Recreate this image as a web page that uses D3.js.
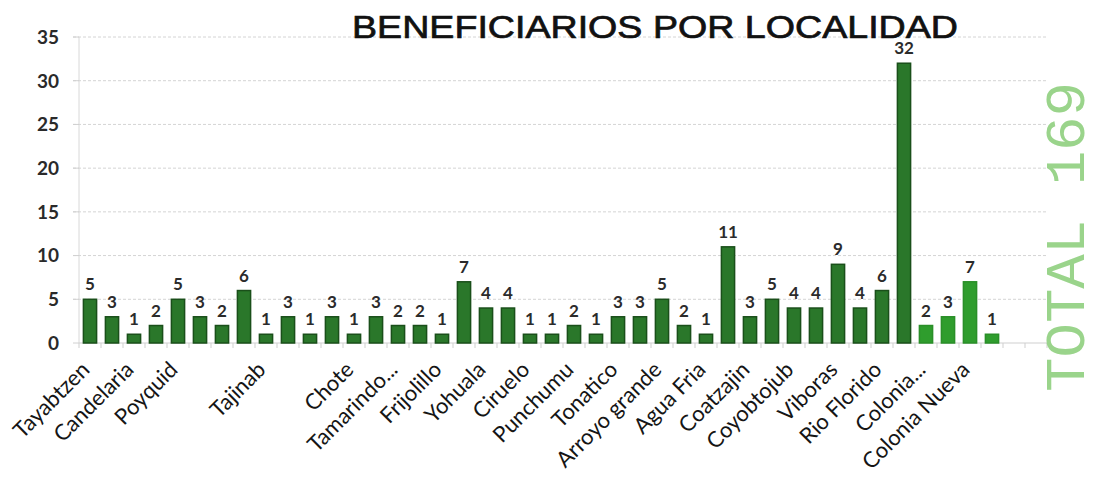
<!DOCTYPE html>
<html>
<head>
<meta charset="utf-8">
<script src="https://cdn.jsdelivr.net/npm/d3@7"></script>
<style>
  html, body { margin: 0; padding: 0; background: #ffffff; }
  svg { display: block; }
</style>
</head>
<body>
<svg id="chart" width="1104" height="495"></svg>
<script>
const title = "BENEFICIARIOS POR LOCALIDAD";
const totalLabel = "TOTAL 169";
const values = [5,3,1,2,5,3,2,6,1,3,1,3,1,3,2,2,1,7,4,4,1,1,2,1,3,3,5,2,1,11,3,5,4,4,9,4,6,32,2,3,7,1];
const categories = ["Tayabtzen","","Candelaria","","Poyquid","","","","Tajinab","","","","Chote","","Tamarindo...","","Frijolillo","","Yohuala","","Ciruelo","","Punchumu","","Tonatico","","Arroyo grande","","Agua Fria","","Coatzajin","","Coyobtojub","","Viboras","","Rio Florido","","Colonia...","","Colonia Nueva",""];
const yTicks = [0,5,10,15,20,25,30,35];

const svg = d3.select("#chart");
const extraSlots = 2;
const x = d3.scaleBand()
  .domain(d3.range(values.length + extraSlots))
  .range([79, 1047])
  .paddingInner(0.4)
  .paddingOuter(0.2);
const y = d3.scaleLinear().domain([0, 35]).range([343, 37]);
const x0 = 79, x1 = 1047;

// gridlines
svg.append("g").selectAll("line").data(yTicks.filter(d => d > 0)).join("line")
  .attr("x1", x0 - 6).attr("x2", x1)
  .attr("y1", d => y(d)).attr("y2", d => y(d))
  .attr("stroke", "#d4d4d4").attr("stroke-width", 1)
  .attr("stroke-dasharray", "3,2");

// y axis line + ticks
svg.append("line").attr("x1", x0).attr("x2", x0).attr("y1", y(35)).attr("y2", y(0))
  .attr("stroke", "#d8d8d8");
svg.append("g").selectAll("line").data(yTicks).join("line")
  .attr("x1", x0 - 6).attr("x2", x0)
  .attr("y1", d => y(d)).attr("y2", d => y(d))
  .attr("stroke", "#d0d0d0");

// x axis line + ticks at band boundaries
svg.append("line").attr("x1", x0).attr("x2", x1).attr("y1", y(0)).attr("y2", y(0))
  .attr("stroke", "#cfcfcf");
const step = x.step();
svg.append("g").selectAll("line").data(d3.range(values.length + extraSlots + 1)).join("line")
  .attr("x1", i => x0 + i * step).attr("x2", i => x0 + i * step)
  .attr("y1", y(0)).attr("y2", y(0) + 5)
  .attr("stroke", "#cfcfcf");

// y tick labels
svg.append("g").selectAll("text").data(yTicks).join("text")
  .attr("x", 59).attr("y", d => y(d))
  .attr("dy", "0.36em")
  .attr("text-anchor", "end")
  .attr("font-family", "Lato, 'Open Sans', sans-serif")
  .attr("font-weight", "bold")
  .attr("font-size", 19)
  .attr("fill", "#2a2a2a")
  .text(d => d);

// bars
const data = values.map((v, i) => ({ i, v, name: categories[i] }));
svg.append("g").selectAll("rect").data(data).join("rect")
  .attr("x", d => x(d.i))
  .attr("width", x.bandwidth())
  .attr("y", d => y(d.v))
  .attr("height", d => y(0) - y(d.v))
  .attr("fill", d => d.i >= 38 ? "#2f9d2d" : "#2a772a")
  .attr("stroke", d => d.i >= 38 ? "#2a8f28" : "#1a4f1a")
  .attr("stroke-width", 1.5);

// value labels
svg.append("g").selectAll("text").data(data).join("text")
  .attr("x", d => x(d.i) + x.bandwidth() / 2)
  .attr("y", d => y(d.v) - 9)
  .attr("text-anchor", "middle")
  .attr("font-family", "Lato, 'Open Sans', sans-serif")
  .attr("font-weight", "bold")
  .attr("font-size", 17)
  .attr("fill", "#2b2b2b")
  .text(d => d.v);

// category labels
svg.append("g").selectAll("text").data(data.filter(d => d.name)).join("text")
  .attr("transform", d => `translate(${x(d.i) + x.bandwidth() / 2 + 1},${y(0) + 28}) rotate(-45)`)
  .attr("text-anchor", "end")
  .attr("font-family", "Lato, 'Open Sans', sans-serif")
  .attr("font-size", 22)
  .attr("fill", "#151515")
  .text(d => d.name);

// title
svg.append("text")
  .attr("x", 352).attr("y", 38)
  .attr("textLength", 606).attr("lengthAdjust", "spacingAndGlyphs")
  .attr("font-family", "'Liberation Sans', Arial, sans-serif")
  .attr("font-size", 32)
  .attr("fill", "#111")
  .attr("stroke", "#111").attr("stroke-width", 0.7)
  .text(title);

// total label
svg.append("text")
  .attr("transform", "translate(1084,392) rotate(-90)")
  .attr("textLength", 310).attr("lengthAdjust", "spacingAndGlyphs")
  .attr("font-family", "'Liberation Mono', 'DejaVu Sans Mono', monospace")
  .attr("font-size", 56)
  .attr("fill", "#9ad48b")
  .text(totalLabel);
</script>
</body>
</html>
